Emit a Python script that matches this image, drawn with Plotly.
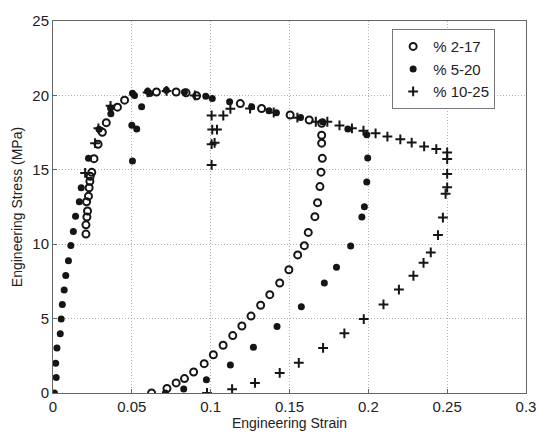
import plotly.graph_objects as go

# ---- data (Engineering strain, Engineering stress MPa) ----
strain_2_17 = [0.0209, 0.0209, 0.0215, 0.0219, 0.0213, 0.0225, 0.0229, 0.0236, 0.0234, 0.0246,
               0.0260, 0.0286, 0.0313, 0.0338, 0.0409, 0.0454, 0.0656, 0.0781, 0.0844, 0.0911,
               0.1188, 0.1323, 0.1504, 0.1625, 0.1704, 0.1704, 0.1704, 0.1708, 0.1700, 0.1693,
               0.1678, 0.1661, 0.1619, 0.1594, 0.1552, 0.1496, 0.1438, 0.1375, 0.1317, 0.1256,
               0.1198, 0.1140, 0.1079, 0.1017, 0.0959, 0.0892, 0.0834, 0.0781, 0.0723, 0.0625]
stress_2_17 = [10.68, 11.30, 11.83, 12.23, 12.85, 13.23, 13.79, 14.57, 14.23, 14.83,
               15.75, 16.72, 17.52, 18.17, 19.21, 19.68, 20.23, 20.23, 20.17, 19.97,
               19.45, 19.12, 18.68, 18.35, 18.12, 17.32, 16.79, 15.77, 14.84, 13.87,
               12.79, 11.85, 10.79, 9.90, 9.28, 8.28, 7.39, 6.61, 5.90, 5.17,
               4.50, 3.86, 3.21, 2.57, 1.97, 1.41, 0.97, 0.68, 0.30, 0.00]

strain_5_20 = [0.0009, 0.0020, 0.0017, 0.0025, 0.0046, 0.0052, 0.0059, 0.0071, 0.0081, 0.0098,
               0.0113, 0.0129, 0.0143, 0.0167, 0.0179, 0.0225, 0.0292, 0.0367, 0.0365, 0.0504,
               0.0517, 0.0500, 0.0531, 0.0504, 0.0562, 0.0600, 0.0615, 0.0719, 0.0834, 0.0969,
               0.1010, 0.1120, 0.1260, 0.1370, 0.1417, 0.1570, 0.1710, 0.1870, 0.1990, 0.1996,
               0.1990, 0.1975, 0.1959, 0.1888, 0.1798, 0.1721, 0.1575, 0.1421, 0.1271, 0.1125,
               0.0973, 0.0829, 0.0713]
stress_5_20 = [0.00, 1.05, 2.00, 3.03, 3.99, 4.97, 5.95, 6.92, 7.90, 8.88,
               9.92, 10.85, 11.88, 12.85, 13.80, 15.77, 17.72, 18.77, 19.15, 20.15,
               20.00, 18.00, 17.75, 15.59, 19.23, 20.28, 20.12, 20.35, 20.23, 19.95,
               19.80, 19.57, 19.23, 18.97, 18.83, 18.52, 18.23, 17.75, 17.35, 15.79,
               14.18, 12.52, 11.83, 9.88, 8.45, 7.40, 5.80, 4.47, 3.08, 1.88,
               0.89, 0.27, 0.00]

strain_10_25 = [0.0204, 0.0267, 0.0288, 0.0365, 0.0600, 0.0720, 0.0900, 0.1006, 0.1080, 0.1010,
                0.1040, 0.1006, 0.1025, 0.1006, 0.1125, 0.1250, 0.1400, 0.1550, 0.1667, 0.1740,
                0.1817, 0.1896, 0.1969, 0.2046, 0.2121, 0.2203, 0.2275, 0.2354, 0.2431, 0.2500,
                0.2500, 0.2500, 0.2500, 0.2490, 0.2473, 0.2442, 0.2396, 0.2350, 0.2286, 0.2194,
                0.2096, 0.1971, 0.1848, 0.1713, 0.1559, 0.1438, 0.1281, 0.1136, 0.0977]
stress_10_25 = [14.79, 16.79, 17.79, 19.30, 20.20, 20.30, 20.00, 18.65, 18.65, 17.70,
                17.70, 16.72, 16.81, 15.33, 19.10, 19.12, 18.85, 18.50, 18.23, 18.23,
                17.98, 17.79, 17.63, 17.45, 17.23, 17.05, 16.83, 16.57, 16.39, 16.17,
                15.72, 14.72, 13.82, 13.39, 11.79, 10.61, 9.45, 8.75, 7.88, 6.95,
                5.95, 4.97, 4.01, 3.03, 2.03, 1.35, 0.68, 0.26, 0.00]

x_ticks = [0, 0.05, 0.1, 0.15, 0.2, 0.25, 0.3]
x_tick_labels = ["0", "0.05", "0.1", "0.15", "0.2", "0.25", "0.3"]
y_ticks = [0, 5, 10, 15, 20, 25]

INK = "#151515"
FONT = "Liberation Sans, Arial, sans-serif"

fig = go.Figure()
fig.add_trace(go.Scatter(
    x=strain_2_17, y=stress_2_17, mode="markers", name="% 2-17",
    marker=dict(symbol="circle-open", size=7, color=INK, line=dict(width=2, color=INK)),
))
fig.add_trace(go.Scatter(
    x=strain_5_20, y=stress_5_20, mode="markers", name="% 5-20",
    marker=dict(symbol="circle", size=7, color=INK, line=dict(width=0)),
))
fig.add_trace(go.Scatter(
    x=strain_10_25, y=stress_10_25, mode="markers", name="% 10-25",
    marker=dict(symbol="cross-thin", size=7, color=INK, line=dict(width=2, color=INK)),
))

axis_common = dict(
    showline=True, linecolor="#666666", linewidth=1, mirror=True,
    showgrid=True, gridcolor="#b0b0b0", gridwidth=1, griddash="1px,2px",
    ticks="inside", ticklen=4, tickcolor="#666666",
    zeroline=False,
    tickfont=dict(family=FONT, size=15, color="#222222"),
)

fig.update_xaxes(
    range=[0, 0.3], tickvals=x_ticks, ticktext=x_tick_labels,
    title=dict(text="Engineering Strain", font=dict(family=FONT, size=14, color="#222222"), standoff=2),
    **axis_common,
)
fig.update_yaxes(
    range=[0, 25], tickvals=y_ticks,
    title=dict(text="Engineering Stress (MPa)", font=dict(family=FONT, size=14, color="#222222"), standoff=6),
    **axis_common,
)

fig.update_layout(
    width=548, height=443,
    margin=dict(l=53, r=15, t=18, b=50),
    paper_bgcolor="white", plot_bgcolor="white",
    font=dict(family=FONT, size=14, color="#222222"),
    legend=dict(
        x=0.717, y=0.978, xanchor="left", yanchor="top",
        bgcolor="white", bordercolor="#777777", borderwidth=1,
        font=dict(family=FONT, size=15, color="#222222"),
        itemwidth=30, tracegroupgap=0,
    ),
    showlegend=True,
)

fig.write_html("out.html")
